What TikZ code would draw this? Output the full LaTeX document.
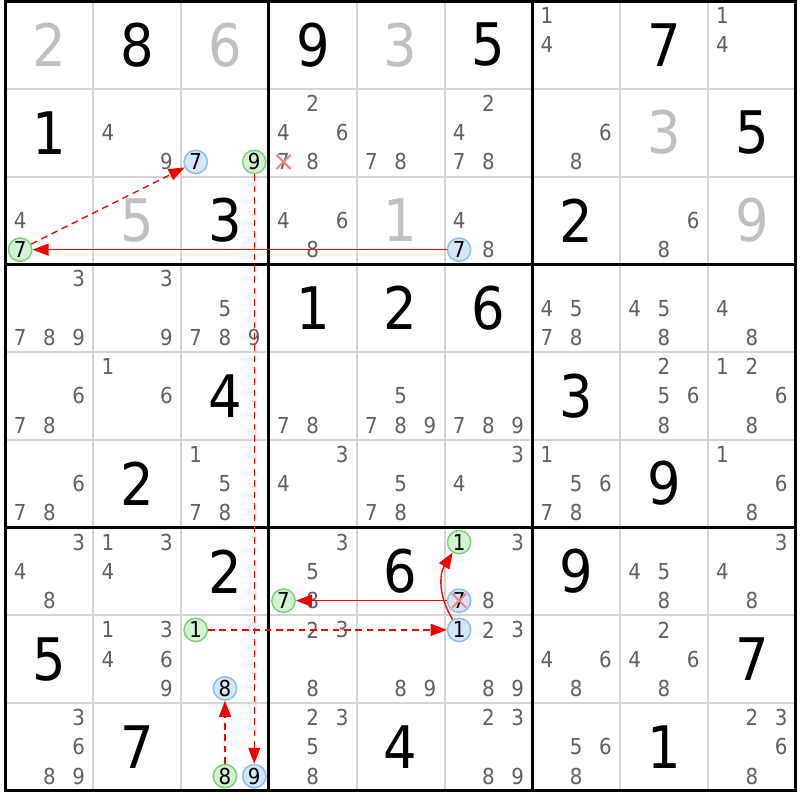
\documentclass[tikz,border=0pt]{standalone}
\usepackage{fontspec}
\setmainfont{DejaVu Sans Condensed}
\usetikzlibrary{arrows.meta}
\definecolor{givgray}{RGB}{192,192,192}
\definecolor{candgray}{RGB}{96,96,96}
\definecolor{gridgray}{RGB}{212,212,212}
\definecolor{gfill}{RGB}{212,242,212}
\definecolor{gline}{RGB}{120,210,120}
\definecolor{bfill}{RGB}{212,230,250}
\definecolor{bline}{RGB}{140,190,240}
\definecolor{arrred}{RGB}{245,0,0}
\definecolor{xred}{RGB}{240,130,130}
\newcommand\given[4]{%
  \pgfmathsetmacro\gx{5.5+87.8*(#2-0.5)}%
  \pgfmathsetmacro\gy{1+87.75*(#1-0.5)}%
  \node[#4] (g#1#2) at (\gx,\gy) {#3};}
\newcommand\cand[4][cand]{%
  \pgfmathsetmacro\px{5.5+87.8*(#3-1)+14.63*(2*mod(#4-1,3)+1)}%
  \pgfmathsetmacro\py{1+87.75*(#2-1)+14.63*(2*floor((#4-1)/3)+1)}%
  \node[#1] (c#2#3#4) at (\px,\py) {#4};}
\newcommand\cands[3]{\foreach \dd in {#3} {\cand{#1}{#2}{\dd}}}
\tikzset{
  cand/.style={font=\fontsize{16.5}{16.5}\selectfont, text=candgray, inner sep=0pt},
  gcirc/.style={cand, text=black, circle, draw=gline, fill=gfill, line width=1.1pt, minimum size=17.5pt},
  bcirc/.style={cand, text=black, circle, draw=bline, fill=bfill, line width=1.1pt, minimum size=17.5pt},
  giv/.style={font=\fontsize{44}{44}\selectfont, inner sep=0pt},
  givB/.style={giv, text=black},
  givG/.style={giv, text=givgray},
  thingrid/.style={draw=gridgray, line width=1.5pt},
  thickgrid/.style={draw=black, line width=2.25pt, line cap=rect},
  arr/.style={draw=arrred, line width=1pt, -{Triangle[length=12pt,width=9pt]}},
  arrd/.style={arr, dash pattern=on 5pt off 3.5pt},
  xmark/.style={draw=xred, line width=1.5pt}
}
\begin{document}
\begin{tikzpicture}[x=0.75pt,y=-0.75pt]
\useasboundingbox (0,0) rectangle (800,800);
\fill[white] (0,0) rectangle (800,800);
% grid
\foreach \i in {1,2,4,5,7,8} {
  \draw[thingrid] ({5.5+87.8*\i},1) -- ({5.5+87.8*\i},790.75);
  \draw[thingrid] (5.5,{1+87.75*\i}) -- (795.7,{1+87.75*\i});
}
\foreach \i in {0,3,6,9} {
  \draw[thickgrid] ({5.5+87.8*\i},1) -- ({5.5+87.8*\i},790.75);
  \draw[thickgrid] (5.5,{1+87.75*\i}) -- (795.7,{1+87.75*\i});
}
% givens
\given{1}{1}{2}{givG}\given{1}{2}{8}{givB}\given{1}{3}{6}{givG}
\given{1}{4}{9}{givB}\given{1}{5}{3}{givG}\given{1}{6}{5}{givB}
\given{1}{8}{7}{givB}
\given{2}{1}{1}{givB}\given{2}{8}{3}{givG}\given{2}{9}{5}{givB}
\given{3}{2}{5}{givG}\given{3}{3}{3}{givB}\given{3}{5}{1}{givG}
\given{3}{7}{2}{givB}\given{3}{9}{9}{givG}
\given{4}{4}{1}{givB}\given{4}{5}{2}{givB}\given{4}{6}{6}{givB}
\given{5}{3}{4}{givB}\given{5}{7}{3}{givB}
\given{6}{2}{2}{givB}\given{6}{8}{9}{givB}
\given{7}{3}{2}{givB}\given{7}{5}{6}{givB}\given{7}{7}{9}{givB}
\given{8}{1}{5}{givB}\given{8}{9}{7}{givB}
\given{9}{2}{7}{givB}\given{9}{5}{4}{givB}\given{9}{8}{1}{givB}
% candidates
\cands{1}{7}{1,4}\cands{1}{9}{1,4}
\cands{2}{2}{4,9}\cands{2}{4}{2,4,6,7,8}\cands{2}{5}{7,8}\cands{2}{6}{2,4,7,8}\cands{2}{7}{6,8}
\cand[bcirc]{2}{3}{7}\cand[gcirc]{2}{3}{9}
\cand{3}{1}{4}\cand[gcirc]{3}{1}{7}
\cands{3}{4}{4,6,8}
\cands{3}{6}{4,8}\cand[bcirc]{3}{6}{7}
\cands{3}{8}{6,8}
\cands{4}{1}{3,7,8,9}\cands{4}{2}{3,9}\cands{4}{3}{5,7,8,9}
\cands{4}{7}{4,5,7,8}\cands{4}{8}{4,5,8}\cands{4}{9}{4,8}
\cands{5}{1}{6,7,8}\cands{5}{2}{1,6}\cands{5}{4}{7,8}\cands{5}{5}{5,7,8,9}
\cands{5}{6}{7,8,9}\cands{5}{8}{2,5,6,8}\cands{5}{9}{1,2,6,8}
\cands{6}{1}{6,7,8}\cands{6}{3}{1,5,7,8}\cands{6}{4}{3,4}\cands{6}{5}{5,7,8}
\cands{6}{6}{3,4}\cands{6}{7}{1,5,6,7,8}\cands{6}{9}{1,6,8}
\cands{7}{1}{3,4,8}\cands{7}{2}{1,3,4}
\cands{7}{4}{3,5,8}\cand[gcirc]{7}{4}{7}
\cands{7}{6}{3,8}\cand[gcirc]{7}{6}{1}\cand[bcirc]{7}{6}{7}
\cands{7}{8}{4,5,8}\cands{7}{9}{3,4,8}
\cands{8}{2}{1,3,4,6,9}\cand[gcirc]{8}{3}{1}\cand[bcirc]{8}{3}{8}
\cands{8}{4}{2,3,8}\cands{8}{5}{8,9}
\cands{8}{6}{2,3,8,9}\cand[bcirc]{8}{6}{1}
\cands{8}{7}{4,6,8}\cands{8}{8}{2,4,6,8}
\cands{9}{1}{3,6,8,9}\cand[gcirc]{9}{3}{8}\cand[bcirc]{9}{3}{9}
\cands{9}{4}{2,3,5,8}\cands{9}{6}{2,3,8,9}\cands{9}{7}{5,6,8}\cands{9}{9}{2,3,6,8}
% eliminations
\draw[xmark] (c247.center) ++(-7,-7) -- ++(14,14);
\draw[xmark] (c247.center) ++(-7,7) -- ++(14,-14);
\draw[xmark] (c767.center) ++(-7,-7) -- ++(14,14);
\draw[xmark] (c767.center) ++(-7,7) -- ++(14,-14);
% chain
\draw[arr] (c367) -- (c317);
\draw[arrd] (c317) -- (c237);
\draw[arrd] (c239) -- (c939);
\draw[arrd] (c938) -- (c838);
\draw[arrd] (c831) -- (c861);
\draw[arr] (c861) to[bend left=32] (c761);
\draw[arr] (c767) -- (c747);
\end{tikzpicture}
\end{document}
